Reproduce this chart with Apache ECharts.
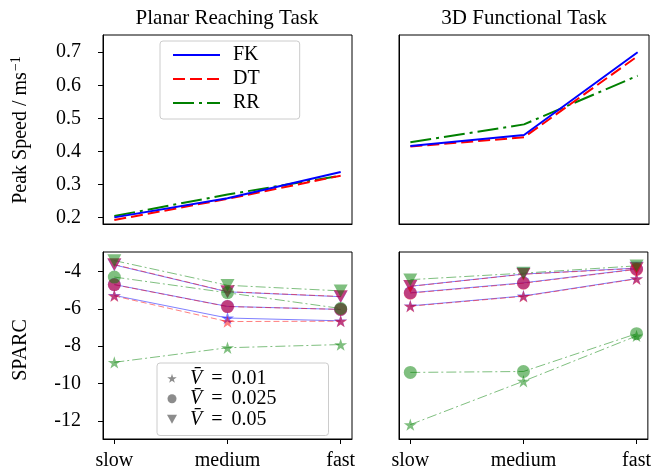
<!DOCTYPE html>
<html>
<head>
<meta charset="utf-8">
<script src="https://cdn.jsdelivr.net/npm/echarts@6/dist/echarts.min.js"></script>
<style>
  html, body { margin: 0; padding: 0; background: #fff; }
  #chart { width: 654px; height: 471px; }
</style>
</head>
<body>
<div id="chart"></div>
<script>
// categories / ticks
var speedLevels = ['slow', 'medium', 'fast'];
var speedTicks = [0.2, 0.3, 0.4, 0.5, 0.6, 0.7];
var sparcTicks = [-12, -10, -8, -6, -4];
var markerLabels = ['0.01', '0.025', '0.05'];

// peak speed (top row)
var planarSpeedFK = [0.201, 0.259, 0.338];
var planarSpeedDT = [0.193, 0.257, 0.327];
var planarSpeedRR = [0.205, 0.270, 0.327];
var functionalSpeedFK = [0.417, 0.450, 0.700];
var functionalSpeedDT = [0.415, 0.443, 0.688];
var functionalSpeedRR = [0.428, 0.482, 0.629];

// SPARC (bottom row), rows = V 0.01 / 0.025 / 0.05
var planarSparcFK = [[-5.28, -6.49, -6.64], [-4.70, -5.87, -6.03], [-3.65, -5.09, -5.35]];
var planarSparcDT = [[-5.31, -6.68, -6.66], [-4.71, -5.88, -6.03], [-3.63, -5.08, -5.34]];
var planarSparcRR = [[-8.86, -8.08, -7.91], [-4.30, -5.14, -5.98], [-3.42, -4.74, -5.04]];
var functionalSparcFK = [[-5.84, -5.31, -4.38], [-5.14, -4.61, -3.87], [-4.79, -4.14, -3.82]];
var functionalSparcDT = [[-5.86, -5.33, -4.40], [-5.16, -4.63, -3.89], [-4.80, -4.15, -3.84]];
var functionalSparcRR = [[-12.19, -9.87, -7.45], [-9.40, -9.35, -7.33], [-4.44, -4.09, -3.70]];

var font = 'Liberation Serif';
var starPath = 'path://M50,0 L61,35 L98,35 L68,57 L79,91 L50,70 L21,91 L32,57 L2,35 L39,35 Z';
var triDownPath = 'path://M0,0 L10,0 L5,9 Z';
var markers = [starPath, 'circle', triDownPath];
var markerSizes = [13, 13, 14];

// line styles: top row (thick) and bottom row (thin)
var algos = {
    FK: { color: '#0000ff', type: 'solid', thin: 'solid' },
    DT: { color: '#ff0000', type: [12, 5], thin: [6, 3] },
    RR: { color: '#008000', type: [21, 5, 3, 5], thin: [10, 3, 2, 3] }
};

function pairs (arr) {
    return arr.map(function (v, i) { return [i, v]; });
}

var grids = [
    { left: 103, top: 35, width: 249, height: 189 },
    { left: 399, top: 35, width: 250, height: 189 },
    { left: 103, top: 252, width: 249, height: 190 },
    { left: 399, top: 252, width: 250, height: 190 }
].map(function (g) {
    g.show = true; g.borderColor = '#000'; g.borderWidth = 1;
    return g;
});

function xAxisFor (idx, labels) {
    return {
        gridIndex: idx, type: 'value', min: -0.1, max: 2.1,
        splitLine: { show: false },
        axisLine: { show: true, onZero: false, lineStyle: { color: '#000' } },
        axisTick: { show: labels, length: 5, customValues: [0, 1, 2], lineStyle: { color: '#000' } },
        axisLabel: {
            show: labels, customValues: [0, 1, 2], margin: 12,
            color: '#000', fontFamily: font, fontSize: 20,
            formatter: function (v) { return speedLevels[Math.round(v)]; }
        }
    };
}

function yAxisFor (idx, labels, min, max, ticks, fmt) {
    return {
        gridIndex: idx, type: 'value', min: min, max: max,
        splitLine: { show: false },
        axisLine: { show: true, onZero: false, lineStyle: { color: '#000' } },
        axisTick: { show: labels, length: 5, customValues: ticks, lineStyle: { color: '#000' } },
        axisLabel: {
            show: labels, customValues: ticks, margin: 22,
            color: '#000', fontFamily: font, fontSize: 20,
            formatter: fmt
        }
    };
}

var speedFmt = function (v) { return v.toFixed(1); };
var sparcFmt = function (v) { return String(Math.round(v)); };

var series = [];
// top row
function speedSeries (idx, name, data) {
    series.push({
        name: name, type: 'line', xAxisIndex: idx, yAxisIndex: idx,
        data: pairs(data), symbol: 'none', showSymbol: false,
        itemStyle: { color: algos[name].color },
        lineStyle: { color: algos[name].color, width: 2, type: algos[name].type }
    });
}
speedSeries(0, 'RR', planarSpeedRR);
speedSeries(0, 'DT', planarSpeedDT);
speedSeries(0, 'FK', planarSpeedFK);
speedSeries(1, 'RR', functionalSpeedRR);
speedSeries(1, 'DT', functionalSpeedDT);
speedSeries(1, 'FK', functionalSpeedFK);

// bottom row
function sparcSeries (idx, name, rows) {
    rows.forEach(function (row, m) {
        series.push({
            name: name + '-' + idx + '-' + m, type: 'line', xAxisIndex: idx, yAxisIndex: idx,
            data: pairs(row), symbol: markers[m], symbolSize: markerSizes[m],
            symbolKeepAspect: true,
            itemStyle: { color: algos[name].color, opacity: 0.5 },
            lineStyle: { color: algos[name].color, width: 1, type: algos[name].thin, opacity: 0.5 }
        });
    });
}
sparcSeries(2, 'FK', planarSparcFK);
sparcSeries(2, 'DT', planarSparcDT);
sparcSeries(2, 'RR', planarSparcRR);
sparcSeries(3, 'FK', functionalSparcFK);
sparcSeries(3, 'DT', functionalSparcDT);
sparcSeries(3, 'RR', functionalSparcRR);

// legend dummies for the markers
markerLabels.forEach(function (lab, m) {
    series.push({
        name: 'V' + lab, type: 'line', xAxisIndex: 2, yAxisIndex: 2, data: [],
        symbol: markers[m], itemStyle: { color: '#808080' }
    });
});

var option = {
    animation: false,
    backgroundColor: '#fff',
    grid: grids,
    xAxis: [xAxisFor(0, false), xAxisFor(1, false), xAxisFor(2, true), xAxisFor(3, true)],
    yAxis: [
        yAxisFor(0, true, 0.181, 0.752, speedTicks, speedFmt),
        yAxisFor(1, false, 0.181, 0.752, speedTicks, speedFmt),
        yAxisFor(2, true, -12.96, -2.96, sparcTicks, sparcFmt),
        yAxisFor(3, false, -12.96, -2.96, sparcTicks, sparcFmt)
    ],
    legend: [{
        data: ['FK', 'DT', 'RR'],
        orient: 'vertical', left: 160, top: 41,
        itemWidth: 47, itemHeight: 14, itemGap: 4,
        padding: [4, 40, 6, 12],
        itemStyle: { opacity: 0 },
        backgroundColor: '#fff', borderColor: '#ccc', borderWidth: 1, borderRadius: 3,
        textStyle: { fontFamily: font, fontSize: 20, lineHeight: 20, color: '#000', padding: [0, 0, 0, 8] }
    }, {
        data: markerLabels.map(function (lab, m) {
            return { name: 'V' + lab, icon: markers[m] };
        }),
        orient: 'vertical', left: 157, top: 363,
        itemWidth: 14, itemHeight: 9, itemGap: 0,
        padding: [5, 52, 6, 10],
        backgroundColor: '#fff', borderColor: '#ccc', borderWidth: 1, borderRadius: 3,
        itemStyle: { opacity: 0.9 },
        formatter: function (name) { return '{v|V\u0304}{eq|=}' + name.slice(1); },
        textStyle: {
            fontFamily: font, fontSize: 20, lineHeight: 20.5, color: '#000', padding: [0, 0, 0, 6],
            rich: {
                v: { fontFamily: font, fontSize: 20, lineHeight: 20.5, fontStyle: 'italic', color: '#000' },
                eq: { fontFamily: font, fontSize: 20, lineHeight: 20.5, color: '#000', padding: [0, 9, 0, 9] }
            }
        }
    }],
    graphic: [
        { type: 'text', x: 227, y: 18, style: { text: 'Planar Reaching Task', font: '21px "Liberation Serif"', fill: '#000', textAlign: 'center', textVerticalAlign: 'middle' } },
        { type: 'text', x: 524, y: 18, style: { text: '3D Functional Task', font: '21px "Liberation Serif"', fill: '#000', textAlign: 'center', textVerticalAlign: 'middle' } },
        {
            type: 'text', x: 21, y: 130, rotation: Math.PI / 2,
            style: {
                text: 'Peak Speed / ms{sup|\u22121}', fontFamily: font, fontSize: 20, fill: '#000',
                textAlign: 'center', textVerticalAlign: 'middle',
                rich: { sup: { fontFamily: font, fontSize: 14, padding: [0, 0, 10, 1], fill: '#000' } }
            }
        },
        { type: 'text', x: 21, y: 350, rotation: Math.PI / 2, style: { text: 'SPARC', font: '20px "Liberation Serif"', fill: '#000', textAlign: 'center', textVerticalAlign: 'middle' } }
    ],
    series: series
};

var chart = echarts.init(document.getElementById('chart'));
chart.setOption(option);
</script>
</body>
</html>
